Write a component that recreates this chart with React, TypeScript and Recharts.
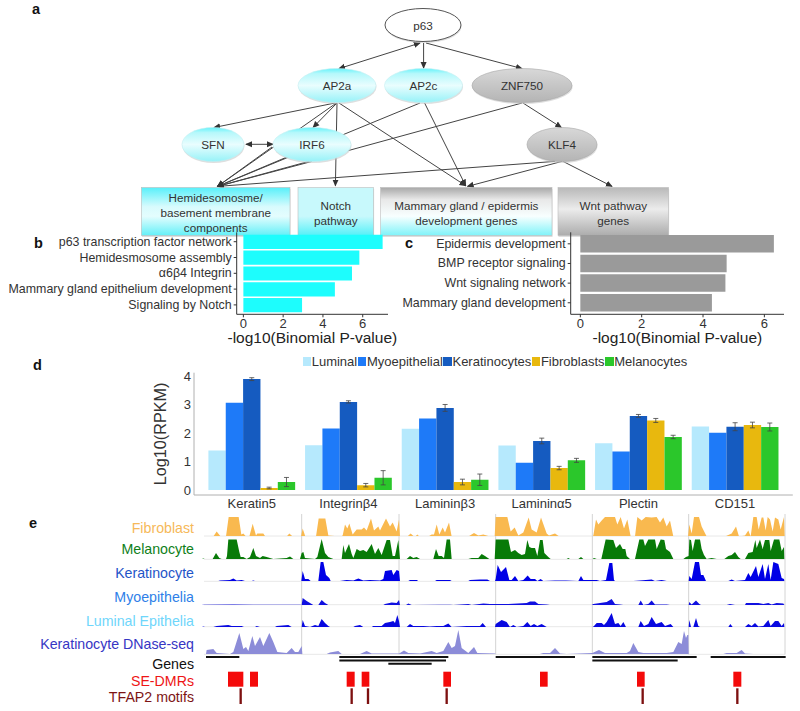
import React from "react";
import {
  ComposedChart, BarChart, AreaChart, Area, Bar, XAxis, YAxis, Scatter, ReferenceLine, ReferenceArea,
  ErrorBar, Legend,
} from "recharts";

const FONT = "'Liberation Sans', Arial, sans-serif";

// ---------- panel a ----------
const ellipseNodes = [
  { name: "p63", x: 423, y: 25, rx: 38, ry: 16.5, fill: "white" },
  { name: "AP2a", x: 337, y: 85.5, rx: 39, ry: 17, fill: "cyan" },
  { name: "AP2c", x: 423.5, y: 85.5, rx: 39, ry: 17, fill: "cyan" },
  { name: "ZNF750", x: 522, y: 85.5, rx: 50, ry: 17, fill: "gray" },
  { name: "SFN", x: 213, y: 144.5, rx: 31, ry: 17, fill: "cyan" },
  { name: "IRF6", x: 312, y: 144.5, rx: 39, ry: 17, fill: "cyan" },
  { name: "KLF4", x: 562, y: 144.5, rx: 35, ry: 17, fill: "gray" },
];
const boxNodes = [
  { lines: ["Hemidesomosme/", "basement membrane", "components"], x: 215.7, y: 211.5, w: 148.6, h: 48, fill: "box1" },
  { lines: ["Notch", "pathway"], x: 335.8, y: 211.5, w: 75.6, h: 48, fill: "box2" },
  { lines: ["Mammary gland / epidermis", "development genes"], x: 466.3, y: 211.5, w: 171.4, h: 48, fill: "box3" },
  { lines: ["Wnt pathway", "genes"], x: 613.3, y: 211.5, w: 110.6, h: 48, fill: "box4" },
];
// x1, y1, x2, y2, both-ends
const edges: [number, number, number, number, boolean][] = [
  [420, 43, 339, 68.6, true],
  [423.6, 43, 423.6, 68, false],
  [426, 43, 522, 68.6, false],
  [335, 103, 214, 127.5, false],
  [337, 103, 313, 127.5, false],
  [336.4, 103, 217.5, 186.4, false],
  [337, 103, 335.4, 185.7, false],
  [339, 103, 465.7, 185.7, false],
  [424.6, 103, 465.7, 185.7, false],
  [420, 103, 217.5, 186.4, false],
  [522, 103, 217.5, 186.4, false],
  [523, 103, 561.4, 127.5, false],
  [246, 144.3, 273, 144.3, true],
  [272, 147, 217.5, 186.4, false],
  [287, 157, 217.5, 186.4, false],
  [312, 161.4, 217.5, 186.4, false],
  [555, 161.4, 217.5, 186.4, false],
  [562, 161.4, 467.5, 186.4, false],
  [563, 161.4, 612, 186.4, false],
];

// ---------- panels b, c ----------
const bTerms = ["p63 transcription factor network", "Hemidesmosome assembly", "\u03b16\u03b24 Integrin", "Mammary gland epithelium development", "Signaling by Notch"];
const bValues = [7.0, 5.83, 5.46, 4.6, 2.95];
const cTerms = ["Epidermis development", "BMP receptor signaling", "Wnt signaling network", "Mammary gland development"];
const cValues = [6.31, 4.77, 4.73, 4.29];
const pTicks = [0, 2, 4, 6];

// ---------- panel d ----------
const geneNames = ["Keratin5", "Integrin\u03b24", "Laminin\u03b23", "Laminin\u03b15", "Plectin", "CD151"];
const luminal = [1.39, 1.57, 2.15, 1.56, 1.64, 2.23];
const myoepithelial = [3.06, 2.16, 2.51, 0.96, 1.35, 2.01];
const keratinocytes = [3.89, 3.09, 2.88, 1.72, 2.6, 2.22];
const fibroblasts = [0.07, 0.17, 0.28, 0.77, 2.44, 2.28];
const melanocytes = [0.28, 0.43, 0.36, 1.04, 1.86, 2.21];
const keratinocytesErr = [0.05, 0.04, 0.12, 0.1, 0.05, 0.14];
const fibroblastsErr = [0.03, 0.06, 0.1, 0.06, 0.07, 0.1];
const melanocytesErr = [0.16, 0.25, 0.2, 0.07, 0.06, 0.14];
const rpkmRows = geneNames.map((gene, i) => ({
  gene,
  luminal: luminal[i],
  myoepithelial: myoepithelial[i],
  keratinocytes: keratinocytes[i],
  fibroblasts: fibroblasts[i],
  melanocytes: melanocytes[i],
  kErr: keratinocytesErr[i],
  fErr: fibroblastsErr[i],
  mErr: melanocytesErr[i],
}));

// ---------- panel e: [position, signal], two stretches of the locus window ----------
type P = [number, number];
const fibroA: P[] = [[640,0],[650,5],[662,0],[678,0],[686,19.5],[716,19.5],[724,2],[730,3],[738,0],[748,0],[758,12.7],[768,1],[772,3],[790,3],[796,0],[860,0],[868,3],[878,0],[903,0],[908,8],[916,0],[948,0],[956,18],[976,18],[985,1],[1022,0],[1028,1],[1035,12],[1042,8],[1048,13],[1058,2],[1070,7],[1085,7],[1092,9],[1100,6],[1113,18],[1122,6],[1135,10],[1140,6],[1158,18],[1170,10],[1178,14],[1190,5],[1197,17]];
const fibroB: P[] = [[0,0],[22,0],[32,3],[42,0],[46,0],[52,2],[58,0],[85,0],[95,2],[102,2],[110,12],[118,2],[128,9],[135,4],[147,14],[155,0],[205,0],[222,3.5],[235,1],[250,2],[270,0],[284,0],[287,19.5],[322,19.5],[332,5],[344,9],[355,1],[370,4],[386,19],[395,7],[410,4],[423,19],[440,3],[447,1],[465,3],[478,0],[576,0],[580,1],[588,17],[595,12],[605,16],[615,19.5],[645,19.5],[652,12],[662,19.5],[672,8],[682,17],[692,0],[705,0],[712,19.5],[725,16],[737,19.5],[755,19],[770,19.5],[780,14],[790,19],[800,10],[810,16],[820,0],[864,0],[868,12],[875,3],[882,19.5],[897,19.5],[905,10],[920,0],[975,0],[995,3],[1008,10],[1017,0],[1035,1],[1045,6],[1052,0],[1060,19.5],[1070,19.5],[1076,7],[1085,19],[1090,19],[1097,6],[1103,19.5],[1110,17],[1118,5],[1125,19],[1135,17],[1142,7],[1152,19.5],[1154,0]];
const melanoA: P[] = [[606,0],[610,0.5],[614,0],[638,0],[648,6],[658,1],[665,0],[678,0],[681,3],[685,19.5],[710,19.5],[718,7],[722,2],[730,2],[740,0],[750,2],[760,11],[768,3],[780,1],[788,3],[800,2],[820,0],[860,1],[870,2.5],[880,0],[900,0],[905,6],[910,7],[915,1],[945,0],[952,2],[965,20],[975,6],[985,2],[1000,0],[1025,0],[1030,14],[1035,6],[1047,15],[1055,5],[1060,1],[1070,10],[1080,8],[1090,9],[1100,7],[1115,15],[1125,5],[1135,11],[1145,4],[1160,19],[1170,19],[1178,3],[1185,3],[1195,19]];
const melanoB: P[] = [[0,0],[20,0],[30,3],[40,1],[50,2],[60,0],[100,0],[108,10],[116,3],[125,3],[132,1],[140,19.5],[150,19.5],[155,0],[205,0],[215,1],[235,1],[245,5],[255,3],[268,0],[284,0],[287,19.5],[325,19.5],[333,7],[345,9],[355,6],[365,4],[375,5],[382,19],[388,12],[395,11],[405,11],[412,3],[420,19],[428,19],[433,6],[445,2],[452,0],[500,0],[505,1],[510,0],[535,0],[543,2],[550,0],[578,0],[582,1],[590,0],[604,0],[617,19.5],[640,19],[648,11],[660,15],[668,10],[676,10],[680,3],[690,0],[705,0],[718,19.5],[730,19.5],[735,13],[745,19.5],[765,19.5],[770,10],[782,19.5],[793,19],[798,10],[810,7],[820,0],[850,0],[858,2],[866,3],[868,19.5],[873,19],[878,8],[885,19.5],[900,19.5],[905,10],[912,4],[920,0],[935,1],[950,0],[973,0],[985,3],[995,4],[1005,7],[1015,2],[1022,0],[1035,0],[1045,6],[1058,7],[1066,19],[1070,11],[1080,19.5],[1088,10],[1095,19],[1108,19],[1112,8],[1122,19.5],[1138,19.5],[1145,8],[1152,12],[1153,0]];
const keratinoA: P[] = [[655,0],[660,0.5],[690,1],[700,2.5],[710,0.5],[725,1],[735,0],[755,0],[760,0.5],[765,0],[904,0],[908,10],[915,2],[925,2],[932,0],[955,0],[962,19],[970,19],[978,6],[988,3],[992,0],[1020,0],[1040,1],[1060,0.5],[1075,2.5],[1090,0.5],[1110,1],[1140,0.5],[1150,2],[1155,10],[1175,11],[1180,6],[1190,11],[1197,10]];
const keratinoB: P[] = [[0,0],[25,0],[30,1],[50,1],[55,0],[105,0],[110,1],[125,1],[150,1],[155,0],[205,0],[210,1],[240,1.5],[262,1.5],[270,0],[285,0],[287,2],[293,16],[303,9],[318,14],[328,1],[335,1],[345,5],[355,0],[370,1],[383,5.5],[392,2],[405,2],[412,0],[422,2],[430,0],[465,0.5],[498,0.5],[535,0],[543,5],[550,1],[575,1],[590,1],[600,0],[618,1],[628,18],[637,18],[642,1],[645,0],[700,0],[720,0.5],[755,1.5],[765,0],[785,1],[800,0],[866,0],[868,5],[875,2],[885,19],[897,19],[903,6],[910,6],[918,0],[985,0],[995,1.5],[1005,0],[1035,1],[1045,8],[1052,4],[1068,15],[1075,4],[1088,17],[1095,2],[1105,17],[1112,1],[1120,19],[1135,17],[1145,3],[1152,2],[1153,0]];
const myoA: P[] = [[605,0],[610,0.2],[700,0.6],[760,0.2],[900,0.2],[905,0],[908,7],[920,4],[930,2],[940,0],[955,0],[965,5],[975,2],[985,0],[1040,0],[1150,0],[1155,1],[1175,2.5],[1190,2],[1197,5]];
const myoB: P[] = [[0,0],[18,0],[25,1.5],[35,0],[120,0.3],[150,0.3],[160,0],[205,1],[215,0],[250,1.5],[270,1],[295,1],[325,1],[380,2],[390,3.5],[405,3.5],[415,1],[440,0.5],[450,0],[575,0],[580,1],[600,2],[620,3],[635,6],[645,1],[660,0.5],[670,0],[715,0],[722,4.5],[730,0],[745,1],[755,4.5],[765,0.5],[800,0.5],[810,0],[866,0],[868,3],[875,0.5],[888,4.5],[898,1],[903,0],[980,0],[990,1],[1005,0],[1035,0],[1038,2],[1055,2],[1075,2],[1090,1],[1105,2],[1115,0.5],[1130,2],[1150,1.5],[1153,0]];
const lumA: P[] = [[606,0],[610,0.5],[615,0],[640,0],[650,1],[685,2],[695,1],[725,1],[732,0],[765,0],[770,1],[780,0],[825,0],[830,1],[865,2],[875,0],[905,0],[908,7],[915,1],[930,0],[945,2],[955,1],[965,8],[975,4],[985,1],[990,0],[1060,0],[1065,1],[1080,2],[1090,0],[1115,0],[1120,1],[1145,1],[1155,4],[1170,5],[1180,6],[1185,4],[1192,12],[1197,6]];
const lumB: P[] = [[0,0],[20,0],[30,3],[40,1],[70,1],[90,0.5],[110,1],[130,1],[145,3.5],[155,0],[200,1],[215,1],[240,1],[248,4],[258,0],[285,0],[287,3],[305,7],[320,5],[330,0],[340,2],[350,0],[370,1],[382,5],[392,1],[402,3],[412,1],[425,3],[440,0],[578,0],[582,1],[590,4],[605,4],[612,2],[620,5],[635,14],[645,3],[655,4],[662,1],[670,5],[678,0],[715,0],[722,6],[732,1],[745,3],[755,10],[768,3],[785,5],[795,1],[812,3],[820,0],[866,0],[868,7],[873,0],[880,0],[888,9],[895,1],[900,0],[985,0],[991,3],[998,0],[1035,0],[1045,3],[1055,1],[1065,4],[1075,0.5],[1090,1],[1105,7],[1112,1],[1125,6],[1135,6],[1145,1],[1152,4],[1153,0]];
const dnaseA: P[] = [[618,0],[620,4],[640,5],[650,1],[690,0],[700,2],[718,21],[730,5],[738,7],[745,3],[757,18],[765,8],[780,17],[790,8],[808,21],[820,12],[832,2],[860,1],[875,6],[885,2],[895,2],[905,8],[907,0],[980,0],[990,1.5],[1015,3],[1025,0],[1080,0],[1100,3],[1115,0.5],[1197,0.5]];
const dnaseB: P[] = [[0,1],[12,3.5],[25,1],[60,0.5],[95,3],[110,1],[130,3],[145,12],[155,6],[165,8],[175,24],[185,6],[205,1],[222,7],[232,1],[285,0.5],[287,0],[420,0],[430,1],[450,1],[465,6],[480,0.5],[500,0],[577,1],[597,4],[615,1],[680,1],[690,3],[700,11],[715,2],[730,1],[800,1],[820,2],[835,12],[845,10],[852,23],[858,16],[862,19],[865,19],[866,0],[970,0],[980,1],[1010,1],[1025,4],[1035,0.5],[1060,0]];

const join = (a: P[], b: P[]) => [...a, ...b.map(([x, h]) => [x + 1200, h] as P)].map(([pos, v]) => ({ pos, v }));
const tracks = [
  { label: "Fibroblast", labelColor: "#f6b95a", fill: "#f9b94f", data: join(fibroA, fibroB), top: 516.5, max: 19.5 },
  { label: "Melanocyte", labelColor: "#0f7f1a", fill: "#087a08", data: join(melanoA, melanoB), top: 539.3, max: 20 },
  { label: "Keratinocyte", labelColor: "#1f55c8", fill: "#0000e6", data: join(keratinoA, keratinoB), top: 561.3, max: 20 },
  { label: "Myoepithelia", labelColor: "#2f7fe8", fill: "#1010e0", data: join(myoA, myoB), top: 584.7, max: 20 },
  { label: "Luminal Epithelia", labelColor: "#6fd6fb", fill: "#0808e0", data: join(lumA, lumB), top: 606.7, max: 20 },
  { label: "Keratinocyte DNase-seq", labelColor: "#3636c4", fill: "#8c8cd8", data: join(dnaseA, dnaseB), top: 630.3, max: 24 },
];
const trackLabelY = [527.7, 549.3, 573, 597, 620.7, 644];
const regionEdges = [905, 1197, 1487, 1777, 2066, 2355];
const geneModels: [number, number, number][] = [[618, 718, 0], [1018, 1345, 0], [1018, 1338, 1], [1165, 1295, 2], [1487, 1725, 0], [1777, 2090, 0], [1777, 2033, 1], [2132, 2357, 0]];
const seDmrs: [number, number][] = [[684, 730], [750, 774], [1040, 1064], [1085, 1108], [1330, 1353], [1620, 1643], [1911, 1934], [2200, 2224]];
const tfap2Motifs = [722, 1055, 1104, 1340, 1928, 2212];
const lowerLabels = [
  { text: "Genes", color: "#111", y: 664 },
  { text: "SE-DMRs", color: "#ee1515", y: 680.7 },
  { text: "TFAP2 motifs", color: "#7d1414", y: 697 },
];
const panelLetters = [
  { t: "a", x: 37, y: 9 }, { t: "b", x: 39, y: 243 }, { t: "c", x: 410, y: 243 }, { t: "d", x: 38, y: 365 }, { t: "e", x: 34, y: 523 },
];

const abs = (left: number, top: number): React.CSSProperties => ({ position: "absolute", left, top });

const EllipseShape = (p: any) => {
  const n = p.payload;
  const fill = n.fill === "white" ? "#fff" : n.fill === "cyan" ? "url(#cyanOval)" : "url(#grayOval)";
  const stroke = n.fill === "white" ? "#555" : n.fill === "cyan" ? "#c4eef2" : "#a8a8a8";
  return (
    <g>
      <ellipse cx={p.cx + 0.5} cy={p.cy + 1.5} rx={n.rx} ry={n.ry} fill="#c8c8c8" opacity={0.6} />
      <ellipse cx={p.cx} cy={p.cy} rx={n.rx} ry={n.ry} fill={fill} stroke={stroke} strokeWidth={n.fill === "white" ? 1 : 0.6} />
      <text x={p.cx} y={p.cy} textAnchor="middle" dominantBaseline="central" fontFamily={FONT} fontSize={11.7} fill="#333">{n.name}</text>
    </g>
  );
};
const BoxShape = (p: any) => {
  const n = p.payload;
  const lh = 14.8;
  const y0 = p.cy + 1.2 - ((n.lines.length - 1) * lh) / 2;
  return (
    <g>
      <rect x={p.cx - n.w / 2 + 0.5} y={p.cy - n.h / 2 + 1.5} width={n.w} height={n.h} fill="#c8c8c8" opacity={0.6} />
      <rect x={p.cx - n.w / 2} y={p.cy - n.h / 2} width={n.w} height={n.h} fill={`url(#${n.fill})`} stroke="#bdbdbd" strokeWidth={0.6} />
      {n.lines.map((l: string, i: number) => (
        <text key={l} x={p.cx} y={y0 + i * lh} textAnchor="middle" dominantBaseline="central" fontFamily={FONT} fontSize={11.7} fill="#333">{l}</text>
      ))}
    </g>
  );
};
const grad = (id: string, stops: [number, string][]) => (
  <linearGradient id={id} x1="0" y1="0" x2="0" y2="1">
    {stops.map(([o, c]) => <stop key={o} offset={o} stopColor={c} />)}
  </linearGradient>
);

function PanelA() {
  return (
    <ComposedChart width={800} height={240} margin={{ top: 0, right: 0, bottom: 0, left: 0 }} style={abs(0, 0)}>
      <defs>
        <marker id="arrowEnd" viewBox="0 0 8 8" refX="7" refY="4" markerWidth="7" markerHeight="7" orient="auto" markerUnits="userSpaceOnUse">
          <path d="M0,0.5 L8,4 L0,7.5 Z" fill="#333" />
        </marker>
        <marker id="arrowStart" viewBox="0 0 8 8" refX="1" refY="4" markerWidth="7" markerHeight="7" orient="auto" markerUnits="userSpaceOnUse">
          <path d="M8,0.5 L0,4 L8,7.5 Z" fill="#333" />
        </marker>
        {grad("cyanOval", [[0, "#62f3fb"], [0.15, "#b5f8fb"], [0.5, "#e9fdfe"], [1, "#96f2f8"]])}
        {grad("grayOval", [[0, "#d8d8d8"], [1, "#b4b4b4"]])}
        {grad("box1", [[0, "#58f0fa"], [0.4, "#d8fbfd"], [0.6, "#e4fdfe"], [1, "#63f0f8"]])}
        {grad("box2", [[0, "#c8f9fc"], [0.6, "#c8f9fc"], [1, "#55f0f8"]])}
        {grad("box3", [[0, "#a8a8a8"], [0.25, "#e8e8e8"], [0.6, "#f8ffff"], [1, "#7ff3f9"]])}
        {grad("box4", [[0, "#b8b8b8"], [0.45, "#ececec"], [1, "#acacac"]])}
      </defs>
      <XAxis type="number" dataKey="x" domain={[0, 800]} hide />
      <YAxis type="number" dataKey="y" domain={[0, 240]} reversed hide width={0} />
      {edges.map(([x1, y1, x2, y2, both], i) => (
        <ReferenceLine
          key={i}
          segment={[{ x: x1, y: y1 }, { x: x2, y: y2 }]}
          stroke="#444"
          strokeWidth={1}
          markerEnd="url(#arrowEnd)"
          markerStart={both ? "url(#arrowStart)" : undefined}
        />
      ))}
      <Scatter data={ellipseNodes} shape={EllipseShape} isAnimationActive={false} />
      <Scatter data={boxNodes} shape={BoxShape} isAnimationActive={false} />
    </ComposedChart>
  );
}

// a one-line category label: long terms stay on one line as in the figure
const TermTick = ({ x, y, payload }: any) => (
  <text x={x} y={y} textAnchor="end" dominantBaseline="central" fontFamily={FONT} fontSize={12.4} fill="#333">{payload.value}</text>
);

function TermChart({ terms, values, color, left, width, right, axisWidth, domain, barSize, pad }: any) {
  const rows = terms.map((term: string, i: number) => ({ term, value: values[i] }));
  return (
    <BarChart
      width={width}
      height={130}
      layout="vertical"
      data={rows}
      margin={{ top: 7.3, right, bottom: 0, left: 0 }}
      barCategoryGap={0}
      style={abs(left, 225)}
    >
      <XAxis
        type="number"
        domain={domain}
        ticks={pTicks}
        allowDataOverflow
        height={40.7}
        tickSize={3}
        tickMargin={1}
        tick={{ fontSize: 13, fontFamily: FONT, fill: "#333" }}
        stroke="#333"
        label={{ value: "-log10(Binomial P-value)", position: "insideBottom", offset: 12, fontSize: 15.5, fontFamily: FONT, fill: "#222" }}
      />
      <YAxis
        type="category"
        dataKey="term"
        width={axisWidth}
        interval={0}
        padding={{ top: pad, bottom: pad }}
        tickSize={3}
        tickMargin={2}
        tick={TermTick}
        stroke="#333"
      />
      <Bar dataKey="value" fill={color} barSize={barSize} isAnimationActive={false} />
    </BarChart>
  );
}

const rpkmSeries = [
  { key: "luminal", name: "Luminal", color: "#b6e9fd" },
  { key: "myoepithelial", name: "Myoepithelial", color: "#1e7af8" },
  { key: "keratinocytes", name: "Keratinocytes", color: "#155bc0", err: "kErr" },
  { key: "fibroblasts", name: "Fibroblasts", color: "#e8b80e", err: "fErr" },
  { key: "melanocytes", name: "Melanocytes", color: "#2bc72b", err: "mErr" },
];

const RpkmLegend = ({ payload }: any) => (
  <div style={{ display: "flex", alignItems: "center", fontFamily: FONT, fontSize: 13, color: "#333", whiteSpace: "nowrap" }}>
    {(payload || []).map((e: any) => (
      <span key={e.value} style={{ display: "inline-flex", alignItems: "center", marginRight: 0.7 }}>
        <span style={{ display: "inline-block", width: 8.5, height: 9, background: e.color, marginRight: 0.5 }} />
        {e.value}
      </span>
    ))}
  </div>
);

function PanelD() {
  return (
    <ComposedChart
      width={800}
      height={165}
      data={rpkmRows}
      barGap={0}
      margin={{ top: 22.7, right: 7.2, bottom: 0, left: 0 }}
      style={abs(0, 350)}
    >
      <Legend
        content={RpkmLegend}
        layout="horizontal"
        verticalAlign="middle"
        align="center"
        itemSorter={null}
        wrapperStyle={{ position: "absolute", left: 302.7, top: 4, width: "auto" }}
      />
      <XAxis
        dataKey="gene"
        padding={{ left: 9.4, right: 9.4 }}
        height={20}
        tickLine={false}
        tickSize={0}
        interval={0}
        tickMargin={3.5}
        tick={{ fontSize: 13, fontFamily: FONT, fill: "#333" }}
        stroke="#b0b0b0"
      />
      <YAxis
        type="number"
        domain={[-0.175, 4.115]}
        ticks={[0, 1, 2, 3, 4]}
        allowDataOverflow
        width={194}
        tickLine={false}
        tickSize={0}
        tickMargin={3}
        tick={{ fontSize: 13, fontFamily: FONT, fill: "#333" }}
        stroke="#b0b0b0"
        label={{ value: "Log10(RPKM)", angle: -90, position: "insideLeft", offset: 160.7, fontSize: 16.2, fontFamily: FONT, fill: "#333", textAnchor: "middle" }}
      />
      {rpkmSeries.map((s) => (
        <Bar key={s.key} dataKey={s.key} name={s.name} fill={s.color} barSize={17.35} isAnimationActive={false}>
          {s.err ? <ErrorBar dataKey={s.err} width={2.5} stroke="#444" strokeWidth={0.8} /> : null}
        </Bar>
      ))}
    </ComposedChart>
  );
}

const posDomain: [number, number] = [600, 2370];

function TrackAnnotations() {
  const baselines = tracks.map((t) => t.top + t.max);
  return (
    <ComposedChart width={590} height={201} margin={{ top: 0, right: 0, bottom: 0, left: 0 }} style={abs(200, 510)}>
      <XAxis type="number" dataKey="x" domain={posDomain} hide />
      <YAxis type="number" dataKey="y" domain={[510, 711]} reversed hide width={0} />
      <Scatter data={[{ x: 600, y: 510 }]} shape={() => <g />} isAnimationActive={false} />
      {baselines.map((y) => (
        <ReferenceLine key={y} segment={[{ x: 612, y }, { x: 2355, y }]} stroke="#e8e8e8" strokeWidth={1} />
      ))}
      {regionEdges.map((x) => (
        <ReferenceLine key={x} segment={[{ x, y: 514 }, { x, y: 654.5 }]} stroke="#d4d4d4" strokeWidth={1} />
      ))}
      {geneModels.map(([a, b, row], i) => (
        <ReferenceArea key={i} x1={a} x2={b} y1={656 + row * 3.4} y2={658 + row * 3.4} fill="#111" fillOpacity={1} stroke="none" />
      ))}
      {seDmrs.map(([a, b]) => (
        <ReferenceArea key={a} x1={a} x2={b} y1={671.7} y2={686.7} fill="#f40a0a" fillOpacity={1} stroke="none" />
      ))}
      {tfap2Motifs.map((m) => (
        <ReferenceArea key={m} x1={m - 3.5} x2={m + 3.5} y1={688.3} y2={704} fill="#7d1010" fillOpacity={1} stroke="none" />
      ))}
    </ComposedChart>
  );
}

function SignalTrack({ t }: any) {
  return (
    <AreaChart width={590} height={t.max} data={t.data} margin={{ top: 0, right: 0, bottom: 0, left: 0 }} style={abs(200, t.top)}>
      <XAxis type="number" dataKey="pos" domain={posDomain} hide />
      <YAxis type="number" domain={[0, t.max]} hide width={0} />
      <Area type="linear" dataKey="v" stroke="none" fill={t.fill} fillOpacity={1} dot={false} activeDot={false} isAnimationActive={false} />
    </AreaChart>
  );
}

const SideLabel = ({ text, color, y }: any) => (
  <div style={{ position: "absolute", right: 800 - 194, top: y - 9, height: 18, lineHeight: "18px", fontFamily: FONT, fontSize: 14.2, color, whiteSpace: "nowrap" }}>{text}</div>
);

export default function App() {
  return (
    <div style={{ position: "absolute", left: 0, top: 0, width: 800, height: 711, background: "#fff", overflow: "hidden" }}>
      <PanelA />
      <TermChart terms={bTerms} values={bValues} color="#1dfdfd" left={0} width={420} right={32} axisWidth={236.7} domain={[-0.335, 7.27]} barSize={14.2} pad={1.5} />
      <TermChart terms={cTerms} values={cValues} color="#9a9a9a" left={380} width={404} right={0} axisWidth={190.7} domain={[-0.314, 6.64]} barSize={17.5} pad={1.7} />
      <PanelD />
      <TrackAnnotations />
      {tracks.map((t) => <SignalTrack key={t.label} t={t} />)}
      {tracks.map((t, i) => <SideLabel key={t.label} text={t.label} color={t.labelColor} y={trackLabelY[i]} />)}
      {lowerLabels.map((l) => <SideLabel key={l.text} text={l.text} color={l.color} y={l.y} />)}
      {panelLetters.map((l) => (
        <div key={l.t} style={{ position: "absolute", left: l.x - 5, top: l.y - 9, height: 18, lineHeight: "18px", fontFamily: FONT, fontWeight: 700, fontSize: 14.5, color: "#111" }}>{l.t}</div>
      ))}
    </div>
  );
}
